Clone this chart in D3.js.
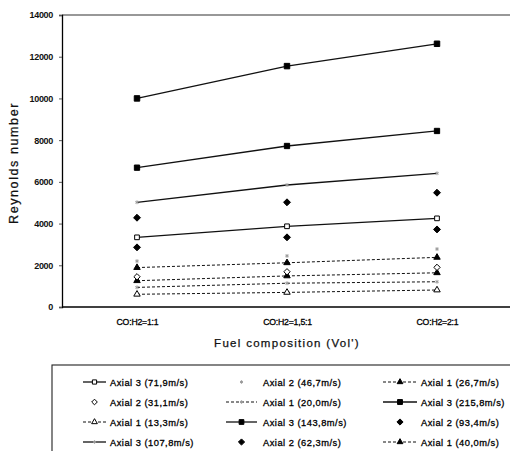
<!DOCTYPE html>
<html>
<head>
<meta charset="utf-8">
<script src="https://cdn.jsdelivr.net/npm/d3@7"></script>
<style>
  html, body { margin: 0; padding: 0; background: #fff; }
  svg { display: block; font-family: "Liberation Sans", Arial, sans-serif; }
</style>
</head>
<body>
<svg id="chart" width="510" height="451"></svg>
<script>
// Fuel composition categories
const categories = ["CO:H2=1:1", "CO:H2=1,5:1", "CO:H2=2:1"];
const yTicks = [0, 2000, 4000, 6000, 8000, 10000, 12000, 14000];

// Reynolds number per swirl/axial inlet velocity
const axial3_215_8 = [10000, 11550, 12620];
const axial3_143_8 = [6680, 7720, 8440];
const axial3_107_8 = [5020, 5850, 6410];
const axial2_93_4  = [4280, 5020, 5480];
const axial3_71_9  = [3340, 3870, 4250];
const axial2_62_3  = [2860, 3340, 3720];
const axial2_46_7  = [2200, 2450, 2780];
const axial1_40_0  = [1890, 2120, 2380];
const axial2_31_1  = [1450, 1690, 1900];
const axial1_26_7  = [1260, 1490, 1640];
const axial1_20_0  = [940, 1140, 1210];
const axial1_13_3  = [610, 700, 815];

// Legend entries, row by row (three columns)
const legendLabels = [
  "Axial 3 (71,9m/s)", "Axial 2 (46,7m/s)", "Axial 1 (26,7m/s)",
  "Axial 2 (31,1m/s)", "Axial 1 (20,0m/s)", "Axial 3 (215,8m/s)",
  "Axial 1 (13,3m/s)", "Axial 3 (143,8m/s)", "Axial 2 (93,4m/s)",
  "Axial 3 (107,8m/s)", "Axial 2 (62,3m/s)", "Axial 1 (40,0m/s)"
];
const legendValues = [
  axial3_71_9, axial2_46_7, axial1_26_7,
  axial2_31_1, axial1_20_0, axial3_215_8,
  axial1_13_3, axial3_143_8, axial2_93_4,
  axial3_107_8, axial2_62_3, axial1_40_0
];

// Rhombus marker: a square turned by 45 degrees
const rhombus = {
  draw(ctx, size) {
    const r = Math.sqrt(size / 2);
    ctx.moveTo(0, -r); ctx.lineTo(r, 0); ctx.lineTo(0, r); ctx.lineTo(-r, 0); ctx.closePath();
  }
};

// Drawing style per series: line kind and marker
const styleOf = {
  "Axial 3 (71,9m/s)":  {line: "solid",  sym: d3.symbolSquare,   size: 22, fill: "#fff", stroke: "#000"},
  "Axial 2 (46,7m/s)":  {line: "none",   sym: d3.symbolAsterisk, size: 10, fill: "none", stroke: "#999"},
  "Axial 1 (26,7m/s)":  {line: "dashed", sym: d3.symbolTriangle, size: 18, fill: "#000", stroke: "#000"},
  "Axial 2 (31,1m/s)":  {line: "none",   sym: rhombus,           size: 20, fill: "#fff", stroke: "#000"},
  "Axial 1 (20,0m/s)":  {line: "dashed", sym: d3.symbolAsterisk, size: 10, fill: "none", stroke: "#999"},
  "Axial 3 (215,8m/s)": {line: "solid",  sym: d3.symbolSquare,   size: 30, fill: "#000", stroke: "#000"},
  "Axial 1 (13,3m/s)":  {line: "dashed", sym: d3.symbolTriangle, size: 18, fill: "#fff", stroke: "#000"},
  "Axial 3 (143,8m/s)": {line: "solid",  sym: d3.symbolSquare,   size: 28, fill: "#000", stroke: "#000"},
  "Axial 2 (93,4m/s)":  {line: "none",   sym: rhombus,           size: 24, fill: "#000", stroke: "#000"},
  "Axial 3 (107,8m/s)": {line: "solid",  sym: d3.symbolAsterisk, size: 10, fill: "none", stroke: "#999"},
  "Axial 2 (62,3m/s)":  {line: "none",   sym: rhombus,           size: 24, fill: "#000", stroke: "#000"},
  "Axial 1 (40,0m/s)":  {line: "dashed", sym: d3.symbolTriangle, size: 18, fill: "#000", stroke: "#000"}
};

const svg = d3.select("#chart");

const x = d3.scalePoint().domain(categories).range([62, 512]).padding(0.5);
const y = d3.scaleLinear().domain([0, 14000]).range([307, 15]);

// Plot frame: top edge and axes
svg.append("line").attr("x1", 62).attr("x2", 510).attr("y1", 15).attr("y2", 15)
  .attr("stroke", "#333").attr("stroke-width", 1.2);

const yAxis = svg.append("g").attr("transform", "translate(62,0)")
  .call(d3.axisLeft(y).tickValues(yTicks).tickSize(3).tickFormat(d3.format("d")));
yAxis.select(".domain").attr("stroke", "#000").attr("stroke-width", 1.3);
yAxis.selectAll(".tick line").attr("stroke", "#555");
yAxis.selectAll(".tick text").attr("x", -9).attr("font-size", 9).attr("font-weight", "bold")
  .attr("fill", "#111").attr("letter-spacing", -0.3);

const xAxis = svg.append("g").attr("transform", "translate(0,307)")
  .call(d3.axisBottom(x).tickSize(0).tickPadding(12));
xAxis.select(".domain").attr("d", "M62,0H510").attr("stroke", "#000").attr("stroke-width", 1.4);
xAxis.selectAll(".tick text").attr("font-size", 8.7).attr("fill", "#000")
  .attr("stroke", "#000").attr("stroke-width", 0.3).attr("letter-spacing", -0.2);

// Axis titles
svg.append("text").attr("x", 287).attr("y", 347).attr("text-anchor", "middle")
  .attr("font-size", 11.5).attr("letter-spacing", 1.3).attr("fill", "#111")
  .attr("stroke", "#111").attr("stroke-width", 0.25)
  .text("Fuel composition (Vol')");
svg.append("text").attr("transform", "translate(18,163) rotate(-90)").attr("text-anchor", "middle")
  .attr("font-size", 12.5).attr("letter-spacing", 1.6).attr("fill", "#111")
  .attr("stroke", "#111").attr("stroke-width", 0.25)
  .text("Reynolds number");

// Series
const lineGen = d3.line().x((d, i) => x(categories[i])).y(d => y(d));
const plot = svg.append("g");

legendLabels.forEach((label, k) => {
  const vals = legendValues[k];
  const st = styleOf[label];
  if (st.line !== "none") {
    plot.append("path").datum(vals).attr("d", lineGen).attr("fill", "none")
      .attr("stroke", "#111").attr("stroke-width", st.line === "solid" ? 1.3 : 1)
      .attr("stroke-dasharray", st.line === "dashed" ? "3,2" : null);
  }
  plot.selectAll(null).data(vals).enter().append("path")
    .attr("transform", (d, i) => `translate(${x(categories[i])},${y(d)})`)
    .attr("d", d3.symbol().type(st.sym).size(st.size))
    .attr("fill", st.fill).attr("stroke", st.stroke).attr("stroke-width", 1);
});

// Legend box
const legend = svg.append("g");
legend.append("rect").attr("x", 52).attr("y", 365).attr("width", 470).attr("height", 100)
  .attr("fill", "none").attr("stroke", "#222").attr("stroke-width", 1.1);

const colX = [83, 226, 383];
const colLineLen = [23, 31, 34];
const colTextX = [27, 37, 38];
const rowY = [382, 402, 422, 442];
legendLabels.forEach((label, k) => {
  const st = styleOf[label];
  const c = k % 3;
  const cx = colX[c], cy = rowY[Math.floor(k / 3)];
  const g = legend.append("g").attr("transform", `translate(${cx},${cy})`);
  if (st.line !== "none") {
    g.append("line").attr("x1", 0).attr("x2", colLineLen[c]).attr("y1", 0).attr("y2", 0)
      .attr("stroke", "#111").attr("stroke-width", st.line === "solid" ? 1.3 : 1)
      .attr("stroke-dasharray", st.line === "dashed" ? "3,2" : null);
  }
  g.append("path").attr("transform", `translate(${colLineLen[c] / 2},0)`)
    .attr("d", d3.symbol().type(st.sym).size(st.size * 0.8))
    .attr("fill", st.fill).attr("stroke", st.stroke).attr("stroke-width", 1);
  g.append("text").attr("x", colTextX[c]).attr("y", 3.5).attr("font-size", 9.3)
    .attr("letter-spacing", 0.5).attr("fill", "#000")
    .attr("stroke", "#000").attr("stroke-width", 0.3).text(label);
});
</script>
</body>
</html>
